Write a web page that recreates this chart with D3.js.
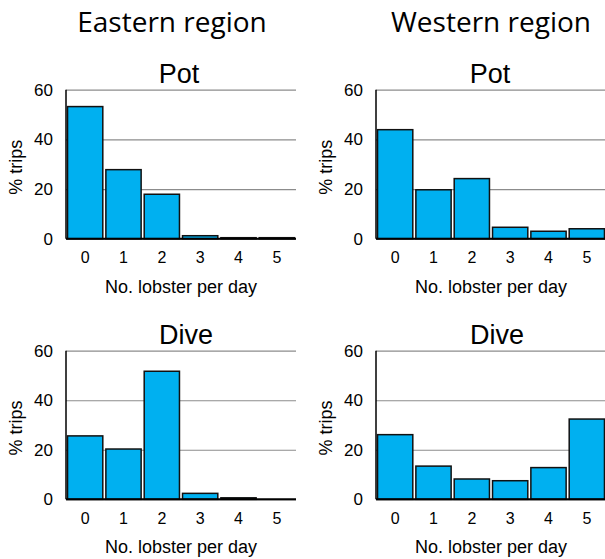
<!DOCTYPE html>
<html>
<head>
<meta charset="utf-8">
<script src="https://cdn.jsdelivr.net/npm/d3@7"></script>
<style>
  body { margin: 0; background: #fff; }
  svg { display: block; }
</style>
</head>
<body>
<div id="chart"></div>
<script>
// data
var lobsterCounts = ["0", "1", "2", "3", "4", "5"];
var yTicks = [0, 20, 40, 60];
var easternPot  = [53.2, 27.8, 17.9, 1.2, 0.4, 0.4];
var westernPot  = [43.9, 19.7, 24.2, 4.6, 3.0, 4.0];
var easternDive = [25.6, 20.3, 51.7, 2.4, 0.6, 0];
var westernDive = [26.1, 13.4, 8.2, 7.5, 12.8, 32.4];

var W = 605, H = 559;
var svg = d3.select("#chart").append("svg").attr("width", W).attr("height", H);

// region headings
svg.append("text").attr("x", 172).attr("y", 32).attr("text-anchor", "middle")
	.style("font-family", "'Open Sans', sans-serif").style("font-size", "28px").style("fill", "#000")
	.text("Eastern region");
svg.append("text").attr("x", 491).attr("y", 32).attr("text-anchor", "middle")
	.style("font-family", "'Open Sans', sans-serif").style("font-size", "28px").style("fill", "#000")
	.text("Western region");

var panels = [
	{ title: "Pot",  values: easternPot,  left: 66,  top: 89.7,  bottom: 238.7, dx: -2 },
	{ title: "Pot",  values: westernPot,  left: 376, top: 89.7,  bottom: 238.7, dx: -1 },
	{ title: "Dive", values: easternDive, left: 66,  top: 350.7, bottom: 499.3, dx: 5 },
	{ title: "Dive", values: westernDive, left: 376, top: 350.7, bottom: 499.3, dx: 6 }
];
var plotW = 230;

panels.forEach(function(p) {
	var x = d3.scaleBand().domain(lobsterCounts).range([p.left, p.left + plotW]).paddingInner(0.08).paddingOuter(0.04);
	var y = d3.scaleLinear().domain([0, 60]).range([p.bottom, p.top]);
	var g = svg.append("g");

	// gridlines + y labels
	var yAxis = g.append("g").attr("transform", "translate(" + p.left + ",0)")
		.call(d3.axisLeft(y).tickValues(yTicks).tickSize(-plotW).tickPadding(13));
	yAxis.select(".domain").remove();
	yAxis.selectAll("line").attr("stroke", "#8c8c8c").attr("stroke-width", 1.2);
	yAxis.selectAll("text").style("font-family", "'Liberation Sans', Arial, sans-serif")
		.style("font-size", "17px").attr("fill", "#000");

	// bars
	g.selectAll(".bar").data(p.values).enter().append("rect")
		.attr("class", "bar")
		.attr("x", function(d, i) { return x(lobsterCounts[i]); })
		.attr("y", function(d) { return y(d); })
		.attr("width", x.bandwidth())
		.attr("height", function(d) { return p.bottom - y(d); })
		.style("fill", "#00b0f0")
		.style("stroke", "#111")
		.style("stroke-width", 1.5);

	// y axis line and baseline
	g.append("line").attr("x1", p.left).attr("x2", p.left).attr("y1", y(60)).attr("y2", y(0))
		.attr("stroke", "#000").attr("stroke-width", 1.5);
	g.append("line").attr("x1", p.left).attr("x2", p.left + plotW).attr("y1", y(0)).attr("y2", y(0))
		.attr("stroke", "#000").attr("stroke-width", 2);

	// x labels
	var xAxis = g.append("g").attr("transform", "translate(0," + p.bottom + ")")
		.call(d3.axisBottom(x).tickSize(0).tickPadding(13));
	xAxis.select(".domain").remove();
	xAxis.selectAll("text").style("font-family", "'Liberation Sans', Arial, sans-serif")
		.style("font-size", "16px").attr("fill", "#000");

	// axis titles
	g.append("text").attr("x", p.left + plotW / 2).attr("y", p.bottom + 54).attr("text-anchor", "middle")
		.style("font-family", "'Liberation Sans', Arial, sans-serif").style("font-size", "18px")
		.text("No. lobster per day");
	g.append("text").attr("transform", "translate(" + (p.left - 44) + "," + ((p.top + p.bottom) / 2 + 3) + ") rotate(-90)")
		.attr("text-anchor", "middle")
		.style("font-family", "'Liberation Sans', Arial, sans-serif").style("font-size", "18px")
		.text("% trips");

	// panel title
	g.append("text").attr("x", p.left + plotW / 2 + p.dx).attr("y", p.top - 7).attr("text-anchor", "middle")
		.style("font-family", "'Liberation Sans', Arial, sans-serif").style("font-size", "27px")
		.text(p.title);
});
</script>
</body>
</html>
